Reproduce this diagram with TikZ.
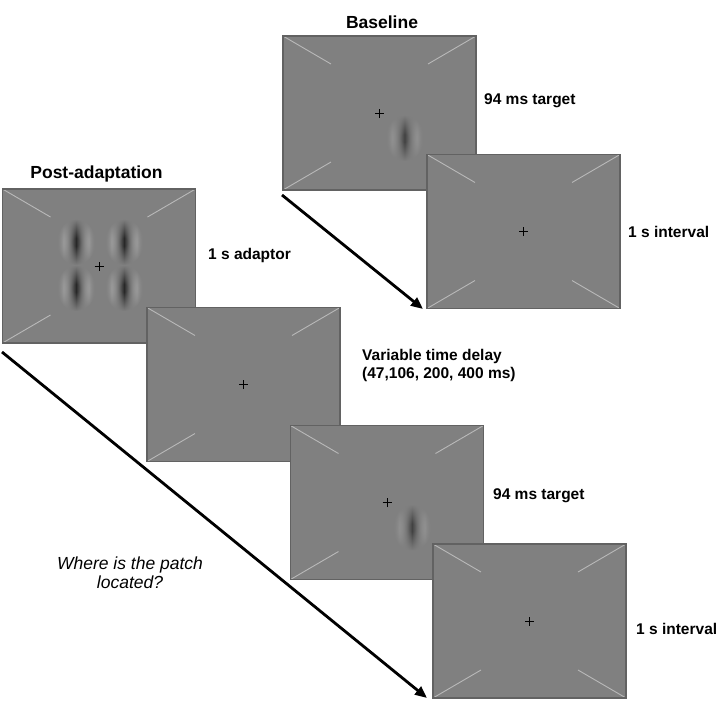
\documentclass[tikz,border=0pt]{standalone}
\usepackage{fontspec}
\setmainfont{Liberation Sans}
\usepackage{tikz}
\usetikzlibrary{positioning, arrows.meta, shapes.geometric, fadings}
\usepackage{xcolor}

\definecolor{scrgray}{RGB}{128,128,128}
\definecolor{scredge}{RGB}{98,98,98}
\definecolor{cornergray}{RGB}{185,185,185}
\definecolor{gablight}{RGB}{185,185,185}
\definecolor{gabmid}{RGB}{100,100,100}
\definecolor{gabdark}{RGB}{40,40,40}
\definecolor{tarlight}{RGB}{165,165,165}
\definecolor{tarmid}{RGB}{108,108,108}
\definecolor{tardark}{RGB}{66,66,66}

\pgfdeclarehorizontalshading{gaborshade}{100bp}{color(0bp)=(scrgray); color(25bp)=(scrgray); color(34bp)=(gablight); color(44bp)=(gabmid); color(50bp)=(gabdark); color(56bp)=(gabmid); color(66bp)=(gablight); color(75bp)=(scrgray); color(100bp)=(scrgray)}
\pgfdeclarehorizontalshading{targetshade}{100bp}{color(0bp)=(scrgray); color(25bp)=(scrgray); color(34bp)=(tarlight); color(44bp)=(tarmid); color(50bp)=(tardark); color(56bp)=(tarmid); color(66bp)=(tarlight); color(75bp)=(scrgray); color(100bp)=(scrgray)}
\pgfdeclareradialshading{gabormask}{\pgfpointorigin}{color(0bp)=(white); color(4bp)=(white); color(25bp)=(black); color(50bp)=(black)}
\pgfdeclarefading{gaborfade}{\pgfuseshading{gabormask}}

\tikzset{
  screen/.style={draw=scredge, fill=scrgray, line width=1.3pt, minimum width=193pt, minimum height=154pt, inner sep=0pt,
    path picture={
      \draw[cornerline] (path picture bounding box.north west) -- ++(48,28);
      \draw[cornerline] (path picture bounding box.north east) -- ++(-48,28);
      \draw[cornerline] (path picture bounding box.south west) -- ++(48,-28);
      \draw[cornerline] (path picture bounding box.south east) -- ++(-48,-28);
      % fixation cross
      \draw[black, line width=0.9pt] ([xshift=-4.5pt]path picture bounding box.center) -- ([xshift=4.5pt]path picture bounding box.center);
      \draw[black, line width=0.9pt] ([yshift=-4.5pt]path picture bounding box.center) -- ([yshift=4.5pt]path picture bounding box.center);
    }},
  cornerline/.style={draw=cornergray, line width=0.9pt},
  gabor/.style={ellipse, minimum width=40pt, minimum height=46pt, inner sep=0pt, shade, shading=gaborshade, path fading=gaborfade},
  target/.style={gabor, shading=targetshade},
  title/.style={font=\fontsize{17.5}{20}\selectfont\bfseries, anchor=base, inner sep=0pt},
  label/.style={font=\fontsize{15.5}{18}\selectfont\bfseries, anchor=base west, align=left, inner sep=0pt},
  timeline/.style={line width=2.8pt, -{Triangle[length=12pt, width=10pt]}}
}

\begin{document}
\begin{tikzpicture}[x=1pt, y=-1pt]
    \useasboundingbox (0,0) rectangle (720,716);

    % Baseline condition
    \node[title] (basetitle) at (382,28) {Baseline};
    \node[screen] (baseA) at (379.5,113) {};
    \node[target] (gabA) at ([shift={(25,25)}]baseA.center) {};
    \node[screen] (baseB) at ([shift={(144,118.5)}]baseA.center) {};
    \node[label] (labA) at (484,104) {94 ms target};
    \node[label] (labB) at (628,237) {1 s interval};

    % Post-adaptation condition
    \node[title] (posttitle) at (96.5,178) {Post-adaptation};
    \node[screen] (post1) at (99,266) {};
    \node[gabor] (gab1a) at ([shift={(-23,-24)}]post1.center) {};
    \node[gabor] (gab1b) at ([shift={(25,-24)}]post1.center) {};
    \node[gabor] (gab1c) at ([shift={(-23,22)}]post1.center) {};
    \node[gabor] (gab1d) at ([shift={(25,22)}]post1.center) {};
    \node[screen] (post2) at ([shift={(144.5,118.5)}]post1.center) {};
    \node[screen] (post3) at ([shift={(143.5,118)}]post2.center) {};
    \node[target] (gab3) at ([shift={(25,25)}]post3.center) {};
    \node[screen] (post4) at ([shift={(142.5,118.5)}]post3.center) {};

    \node[label] (lab1) at (208,259) {1 s adaptor};
    \node[label] (lab2) at (362,378) {Variable time delay\\(47,106, 200, 400 ms)};
    \node[label] (lab3) at (493,499) {94 ms target};
    \node[label] (lab4) at (636,634) {1 s interval};

    \node[font=\fontsize{17.5}{19}\selectfont\itshape, align=center] (question) at (130,573) {Where is the patch\\located?};

    % time arrows
    \coordinate (basestart) at (282,195);
    \coordinate (baseend) at (423,309);
    \coordinate (poststart) at (2,352);
    \coordinate (postend) at (427,698);
    \draw[timeline] (basestart) -- (baseend);
    \draw[timeline] (poststart) -- (postend);
\end{tikzpicture}
\end{document}
